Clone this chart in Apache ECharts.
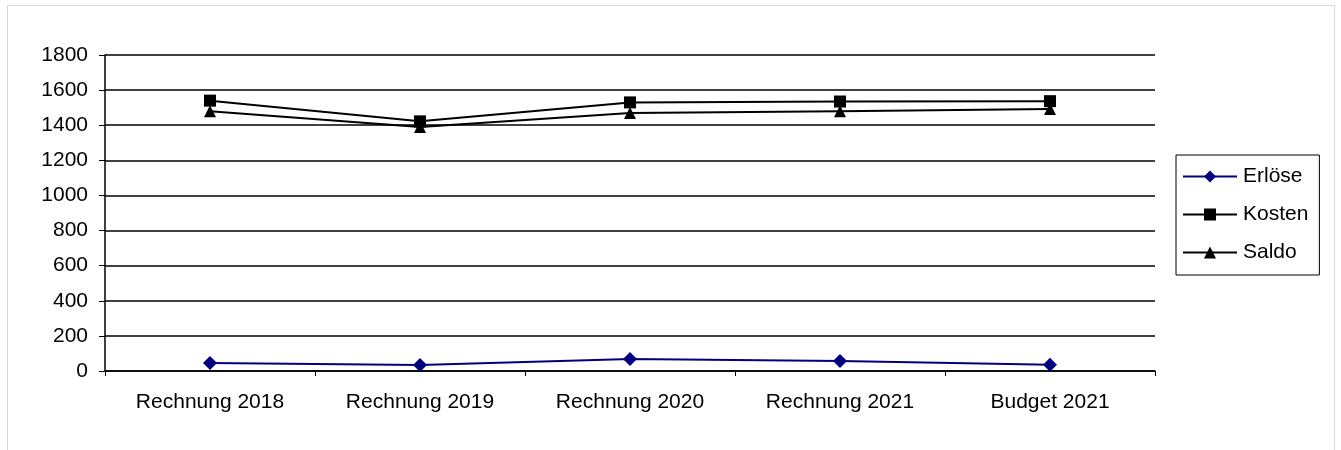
<!DOCTYPE html>
<html><head><meta charset="utf-8">
<script src="https://cdn.jsdelivr.net/npm/echarts@6/dist/echarts.min.js"></script>
<style>html,body{margin:0;padding:0;background:#fff}#c{width:1341px;height:450px}</style>
</head><body><div id="c"></div>
<script>
var categories = ['Rechnung 2018','Rechnung 2019','Rechnung 2020','Rechnung 2021','Budget 2021'];
var erloese = [45, 34, 68, 57, 36];
var kosten = [1540, 1422, 1530, 1535, 1537];
var saldo = [1480, 1390, 1470, 1480, 1492];
var yTicks = [0, 200, 400, 600, 800, 1000, 1200, 1400, 1600, 1800];

var chart = echarts.init(document.getElementById('c'), null, {renderer:'canvas'});
var font = 'Liberation Sans, Arial, sans-serif';
chart.setOption({
  animation: false,
  backgroundColor: '#fff',
  graphic: [{type:'rect', shape:{x:7.5,y:5.5,width:1327,height:460}, style:{fill:'none', stroke:'#d9d9d9', lineWidth:1}, silent:true, z:-1}],
  grid: {left:105, right:186, top:55, bottom:79, containLabel:false},
  legend: {
    orient:'vertical', left:1176, top:155,
    data:['Erlöse','Kosten','Saldo'],
    borderColor:'#000', borderWidth:1, padding:[11,11,12,6],
    itemWidth:54, itemHeight:15, itemGap:17,
    textStyle:{fontFamily:font, fontSize:21, color:'#000', padding:[0,0,0,1]}
  },
  xAxis: {
    type:'category', data:categories, boundaryGap:true,
    axisLine:{lineStyle:{color:'#000', width:1.5}},
    axisTick:{show:true, length:5, inside:false, lineStyle:{color:'#000'}},
    axisLabel:{fontFamily:font, fontSize:21, color:'#000', margin:21}
  },
  yAxis: {
    type:'value', min:0, max:1800, interval:200,
    axisLine:{show:true, lineStyle:{color:'#000', width:1.5}},
    axisTick:{show:true, length:6, lineStyle:{color:'#000'}},
    axisLabel:{fontFamily:font, fontSize:21, color:'#000', margin:17,
      formatter:function(v){return yTicks.indexOf(v)>=0 ? String(v) : '';}},
    splitLine:{show:true, lineStyle:{color:'#000', width:1.5}}
  },
  series: [
    {name:'Erlöse', type:'line', data:erloese, symbol:'diamond', symbolSize:14,
     lineStyle:{color:'#000080', width:2}, itemStyle:{color:'#000080'}},
    {name:'Kosten', type:'line', data:kosten, symbol:'rect', symbolSize:12,
     lineStyle:{color:'#000', width:2}, itemStyle:{color:'#000'}},
    {name:'Saldo', type:'line', data:saldo, symbol:'triangle', symbolSize:12,
     lineStyle:{color:'#000', width:2}, itemStyle:{color:'#000'}}
  ]
});
</script></body></html>
